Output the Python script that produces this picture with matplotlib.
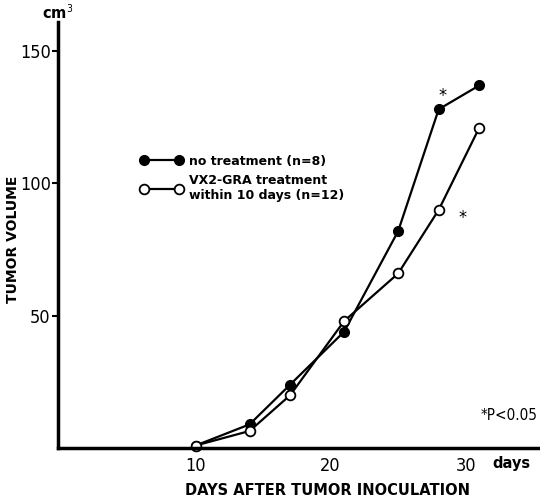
import matplotlib
matplotlib.use("Agg")
import matplotlib.pyplot as plt

# values
days = [10, 14, 17, 21, 25, 28, 31]
no_treatment = [1, 9, 24, 44, 82, 128, 137]
vx2_gra = [1, 6.5, 20, 48, 66, 90, 121]
x_ticks = [10, 20, 30]
y_ticks = [50, 100, 150]

plt.rcParams['font.family'] = ['DejaVu Sans']
plt.rcParams['font.stretch'] = 'condensed'

fig = plt.figure(figsize=(5.4, 4.98), dpi=100)
ax = fig.add_axes([0.107, 0.100, 0.893, 0.856])

ax.plot(days, no_treatment, color='black', lw=1.6, marker='o', ms=7,
        mfc='black', mec='black', label='no treatment (n=8)', clip_on=False)
ax.plot(days, vx2_gra, color='black', lw=1.6, marker='o', ms=7,
        mfc='white', mec='black', mew=1.3,
        label='VX2-GRA treatment\nwithin 10 days (n=12)', clip_on=False)

ax.set_xlim(-0.2, 35.5)
ax.set_ylim(0, 161)
ax.set_xticks(x_ticks)
ax.set_yticks(y_ticks)
ax.tick_params(axis='both', labelsize=13, width=1.5, length=4)
ax.tick_params(axis='x', length=0, pad=6)
ax.tick_params(axis='y', pad=1)
for s in ['top', 'right']:
    ax.spines[s].set_visible(False)
for s in ['left', 'bottom']:
    ax.spines[s].set_linewidth(2.5)

# significance marks
ax.text(28.3, 133, '*', fontsize=13, ha='center', va='center')
ax.text(29.8, 87, '*', fontsize=13, ha='center', va='center')
ax.text(35.3, 12.5, '*P<0.05', fontsize=11, ha='right', va='center')

ax.text(0.98, -0.036, 'days', transform=ax.transAxes, fontsize=10.5,
        fontweight='bold', fontstretch='normal', ha='right', va='center')
ax.text(0.0, 1.0, 'cm$^3$', transform=ax.transAxes, fontsize=10.5,
        fontweight='bold', fontstretch='normal', ha='center', va='bottom')

ax.set_xlabel('DAYS AFTER TUMOR INOCULATION', fontsize=10.5, fontweight='bold',
              fontstretch='normal', va='center')
ax.xaxis.set_label_coords(0.56, -0.099)
ax.set_ylabel('TUMOR VOLUME', fontsize=10, fontweight='bold',
              fontstretch='normal')
ax.yaxis.set_label_coords(-0.079, 0.49)

leg = ax.legend(loc='upper left', bbox_to_anchor=(0.16, 0.7), frameon=False,
                numpoints=2, handlelength=3.4, handletextpad=0.55,
                labelspacing=0.5, borderaxespad=0,
                prop={'weight': 'bold', 'size': 9, 'stretch': 'normal'})

fig.savefig('out.png', dpi=100)
